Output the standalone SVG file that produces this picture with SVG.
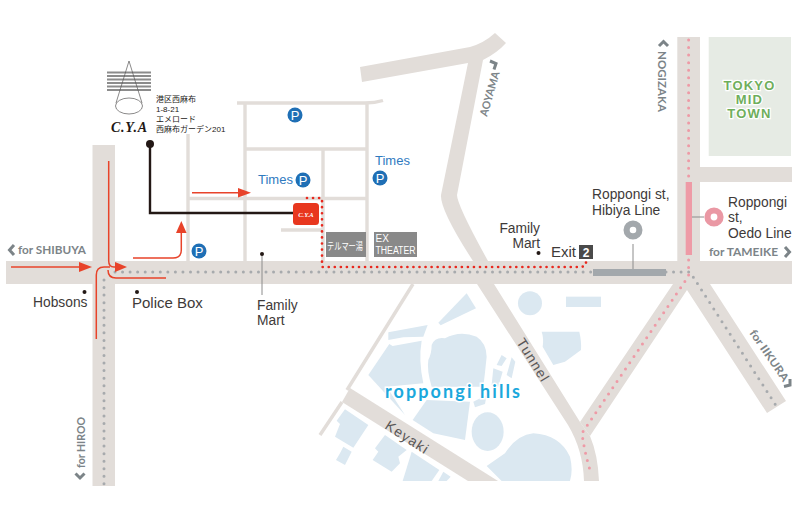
<svg xmlns="http://www.w3.org/2000/svg" width="800" height="509" viewBox="0 0 800 509">
<style>
text{font-family:"Liberation Sans","Noto Sans CJK JP",sans-serif}
.rd{fill:#e2ddd9}
.th{fill:none;stroke:#e2ddd9;stroke-width:3.4}
.bl{fill:#dbe8f1}
.lb{font-size:13.800px;fill:#3e3a39}
.dir{font-family:"Lato","Liberation Sans",sans-serif;font-size:11px;font-weight:700;fill:#7c8488}
.chev{fill:none;stroke:#7c8488;stroke-width:3}
.st{font-size:14px;fill:#595757}
.tm{font-size:13px;fill:#2f7abf}
.pc{fill:#1f6fb5}
.pt{font-size:13px;fill:#fff;text-anchor:middle}
.ad{font-size:8px;fill:#231815}
.wh{font-size:10px;fill:#fff}
.dg{fill:none;stroke:#a7aaad;stroke-width:3;stroke-linecap:round;stroke-dasharray:0 7.55}
.dp{fill:none;stroke:#ee9aa6;stroke-width:3;stroke-linecap:round;stroke-dasharray:0 7.55}
.dr{fill:none;stroke:#e8281e;stroke-width:2.700;stroke-linecap:round;stroke-dasharray:0 6.05}
.ar{fill:none;stroke:#e8432a;stroke-width:1.500}
.ah{fill:#e8432a}
.dot{fill:#231815}
.ln{stroke:#8c8c8c;stroke-width:1;fill:none}
</style>
<g id="buildings">
<g transform="translate(320 280) scale(.3333)" class="bl">
<path d="M440 40L468 85L362 136L355 128Z"/>
<path d="M205 157L323 135L310 170L250 172L205 180Z"/>
<path d="M208 192L218 198L305 182Q295 240 310 310L200 320L255 405L145 285Z"/>
<path d="M335 195Q345 170 375 175Q420 150 470 170Q500 190 500 230Q495 280 490 320L335 320Q320 270 325 240Q335 220 335 195Z"/>
<path d="M320 360L450 365L435 480L340 460L278 420Z"/>
<ellipse cx="503" cy="455" rx="48" ry="58"/>
<path d="M500 558L555 520Q590 465 640 460Q720 465 750 530Q760 570 750 603L545 603Z"/>
<circle cx="630" cy="70" r="36"/>
<rect x="738" y="50" width="105" height="31"/>
<path d="M665 155H778Q785 185 783 210L735 245L700 255L668 200Q672 175 665 155Z"/>
<path d="M545 225L560 235L545 258L530 255Z"/>
<path d="M575 232L586 245L575 295L560 285Z"/>
<path d="M520 265L548 275L535 320L515 315Z"/>
<path d="M460 365L500 345L495 372L465 382Z"/>
<path d="M75 388L145 435L100 503L45 470L60 432L50 422Z"/>
<path d="M70 500L95 515L75 555L48 540L60 520Z"/>
<path d="M195 465L260 510L235 530L240 550L215 575L158 540L175 515L165 505Z"/>
<path d="M275 515L358 570L335 603H248Z"/>
<path d="M370 575L392 590L380 603H355Z"/>
</g>
<rect x="708.700" y="37" width="82.300" height="119" fill="#e6ebe4"/>
</g>
<g id="roads">
<rect class="rd" x="6" y="261" width="786" height="23"/>
<rect class="rd" x="92.500" y="145" width="22.500" height="341"/>
<rect class="rd" x="677.300" y="37" width="22.700" height="224"/>
<rect class="rd" x="700" y="167" width="92" height="15"/>
<path class="rd" d="M673 284L580 422L590 436L687 290L767 413L786 401L710 284Z"/>
<path class="rd" d="M477 284L568 425Q583 450 584 481H599Q598 455 590 436L580 422L494 284Z"/>
<path class="rd" d="M473 261Q440 210 441 195L468 63L362 82L360 67L470 47Q484 43 495 33L506 43Q497 53 483 60L457 195Q457 205 488 261Z"/>
<path class="rd" d="M350 388L498 481H468L342 402Z"/>
<path class="th" d="M413 284L347 390M342 402L320 435"/>
<path class="th" d="M237 103H365Q375 103 383 100.500M245 103V261M367 103V261M245 149H367M323 149V261M188 134V261M188 198.500H367M281 230H323"/>
</g>
<g id="lines">
<path class="dg" d="M115 272H593M104 280V486M666 272H690L777 407"/>
<path class="dp" d="M688.600 40V182M688.600 260V276L582 433Q584 450 590 470"/>
<rect x="685.700" y="182" width="6.300" height="73" fill="#ee9aa6"/>
<path class="ln" d="M692 217H704M633 244V269M262 254V295"/>
<rect x="593" y="269" width="73" height="7" fill="#a3a8ac"/>
<path class="dr" d="M307 198H322V267H582L586 265V258"/>
</g>
<g id="connectors">
<path class="ar" d="M11 267H82"/><path class="ah" d="M79 262L92 267L79 272Z"/>
<path class="ar" d="M108.700 161V261Q108.700 267 114 267H118"/><path class="ah" d="M115 262L127 267L115 272Z"/>
<path class="ar" d="M133 258H173Q181.300 258 181.300 250V232"/><path class="ah" d="M176 233L181.300 221L186.600 233Z"/>
<path class="ar" d="M192 192.700H240"/><path class="ah" d="M238 188L251 192.700L238 197.500Z"/>
<path class="ar" d="M96.300 339V275Q96.300 267 104 267H110"/>
<path class="ar" d="M166 278H116Q108 278 108 270"/>
<path fill="none" stroke="#231815" stroke-width="2.400" d="M150 144V213H293"/>
<circle class="dot" cx="150" cy="144" r="4"/>
</g>
<g id="cya-logo">
<path d="M107 72.500H151M107 76H151M107 79.500H151M107 83H151M107 86.500H151M107 90H151" stroke="#8c8c8c" stroke-width="2" fill="none"/>
<path d="M116 103L129 61L142 103" fill="none" stroke="#595757" stroke-width=".7"/>
<ellipse cx="129" cy="106" rx="13.500" ry="8" fill="none" stroke="#595757" stroke-width=".7"/>
<text x="111" y="132" font-size="14" font-weight="700" font-style="italic" fill="#231815" textLength="36" style="font-family:'Liberation Serif',serif">C.Y.A</text>
<text class="ad" x="156" y="102">港区西麻布</text>
<text class="ad" x="156" y="112">1-8-21</text>
<text class="ad" x="156" y="122">エメロード</text>
<text class="ad" x="156" y="132">西麻布ガーデン201</text>
</g>
<g id="cya-box">
<rect x="293" y="203" width="26" height="22" rx="3.500" fill="#e8371e"/>
<text x="306" y="217" font-size="6.500" font-style="italic" font-weight="700" fill="#fff" text-anchor="middle" style="font-family:'Liberation Serif',serif">C.Y.A</text>
</g>
<g id="parking">
<g class="pc"><circle cx="295" cy="115" r="7.500"/><circle cx="303" cy="180" r="7.500"/><circle cx="380" cy="178" r="7.500"/><circle cx="199" cy="251" r="7.500"/></g>
<text class="pt" x="295" y="119.800">P</text><text class="pt" x="303" y="184.800">P</text><text class="pt" x="380" y="182.800">P</text><text class="pt" x="199" y="255.800">P</text>
<text class="tm" x="258" y="184">Times</text><text class="tm" x="375" y="165">Times</text>
</g>
<g id="venues">
<rect x="326" y="232" width="40" height="25" fill="#898989"/>
<text class="wh" x="327" y="249.500" textLength="36" lengthAdjust="spacingAndGlyphs">テルマー湯</text>
<rect x="374" y="232" width="43" height="25" fill="#898989"/>
<text class="wh" x="375.500" y="242.300">EX</text><text class="wh" x="375.500" y="254.300" textLength="40" lengthAdjust="spacingAndGlyphs">THEATER</text>
</g>
<g id="labels">
<circle class="dot" cx="84.500" cy="292" r="2"/><text class="lb" x="33" y="307">Hobsons</text>
<circle class="dot" cx="137" cy="292" r="2"/><text class="lb" x="132" y="308" style="font-size:15px">Police Box</text>
<circle class="dot" cx="262" cy="254" r="2"/><text class="lb" x="257" y="310">Family</text><text class="lb" x="257" y="325">Mart</text>
<text class="lb" x="540" y="232.500" text-anchor="end">Family</text><text class="lb" x="540" y="247.500" text-anchor="end">Mart</text>
<circle class="dot" cx="538.500" cy="253" r="2"/>
<text class="lb" x="551" y="257" style="font-size:15px">Exit</text>
<rect x="579" y="245" width="14" height="14" fill="#4a4a4a"/>
<text x="586" y="256.500" font-size="12" font-weight="700" fill="#fff" text-anchor="middle">2</text>
<circle cx="633" cy="230" r="6.400" fill="#fff" stroke="#a3a8ac" stroke-width="6.200"/>
<text class="lb" x="592" y="199">Roppongi st,</text><text class="lb" x="592" y="215">Hibiya Line</text>
<circle cx="714" cy="217" r="6.500" fill="#fff" stroke="#ea98a4" stroke-width="6.200"/>
<text class="lb" x="728" y="207">Roppongi</text><text class="lb" x="728" y="222">st,</text><text class="lb" x="728" y="238">Oedo Line</text>
<text class="dir" x="18" y="254" textLength="68" lengthAdjust="spacingAndGlyphs">for SHIBUYA</text><path class="chev" d="M14 245L9.500 250L14 255"/>
<text class="dir" x="709" y="256" textLength="69" lengthAdjust="spacingAndGlyphs">for TAMEIKE</text><path class="chev" d="M785 247L789.500 252L785 257"/>
<text class="dir" transform="translate(85 468) rotate(-90)" textLength="51" lengthAdjust="spacingAndGlyphs">for HIROO</text><path class="chev" d="M75.500 473.500L80 478L84.500 473.500"/>
<text class="dir" transform="translate(658 51) rotate(90)" textLength="61" lengthAdjust="spacingAndGlyphs">NOGIZAKA</text><path class="chev" d="M659 46L663.500 41.500L668 46"/>
<text class="dir" transform="translate(487 117) rotate(-74)" textLength="46" lengthAdjust="spacingAndGlyphs">AOYAMA</text><path class="chev" d="M490 61L496 63.500L494 69.500"/>
<text class="dir" transform="translate(749 333) rotate(55.500)" textLength="60" lengthAdjust="spacingAndGlyphs">for IIKURA</text><path class="chev" d="M784 386.500L790 385L790 379"/>
<text class="st" transform="translate(516 342) rotate(58)" textLength="48">Tunnel</text>
<text class="st" transform="translate(384 428) rotate(33)" textLength="48">Keyaki</text>
<g text-anchor="middle" font-size="13" font-weight="700" fill="#6fae5c" stroke="#fff" stroke-width="2.500" paint-order="stroke" letter-spacing="1.200" style="font-family:Lato,'Liberation Sans',sans-serif">
<text x="749.500" y="90">TOKYO</text><text x="749.500" y="104">MID</text><text x="749.500" y="118">TOWN</text>
</g>
<text x="385" y="398" font-size="18" font-weight="700" fill="#1ba8dc" stroke="#fff" stroke-width="3" paint-order="stroke" textLength="135" style="font-family:Lato,'Liberation Sans',sans-serif">roppongi hills</text>
</g>
</svg>
